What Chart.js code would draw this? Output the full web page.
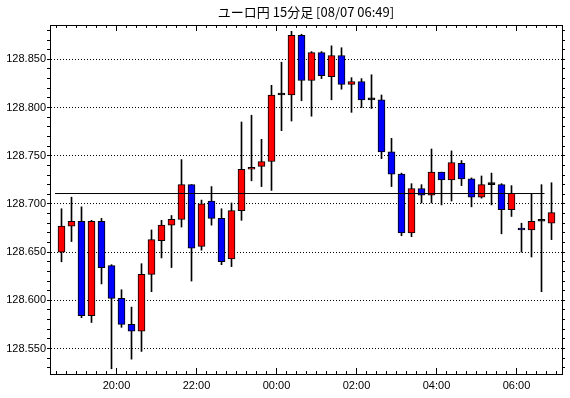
<!DOCTYPE html>
<html>
<head>
<meta charset="utf-8">
<script src="https://cdn.jsdelivr.net/npm/chart.js@4/dist/chart.umd.min.js"></script>
<style>
html,body{margin:0;padding:0;background:#fff;}
#wrap{width:570px;height:398px;}
</style>
</head>
<body>
<div id="wrap"><canvas id="c" width="570" height="398"></canvas></div>
<script>
const titleText = 'ユーロ円 15分足 [08/07 06:49]';

// candle start times (15 minute bars)
const times = [
  '18:30','18:45','19:00','19:15','19:30','19:45','20:00','20:15','20:30','20:45',
  '21:00','21:15','21:30','21:45','22:00','22:15','22:30','22:45','23:00','23:15',
  '23:30','23:45','00:00','00:15','00:30','00:45','01:00','01:15','01:30','01:45',
  '02:00','02:15','02:30','02:45','03:00','03:15','03:30','03:45','04:00','04:15',
  '04:30','04:45','05:00','05:15','05:30','05:45','06:00','06:15','06:30','06:45'
];
const opens = [
  128.650,128.677,128.682,128.584,128.682,128.636,128.602,128.575,128.568,128.627,
  128.662,128.678,128.684,128.720,128.656,128.703,128.685,128.643,128.693,128.736,
  128.739,128.744,128.813,128.813,128.875,128.828,128.857,128.832,128.854,128.824,
  128.827,128.808,128.808,128.754,128.731,128.670,128.716,128.709,128.733,128.725,
  128.742,128.726,128.707,128.720,128.720,128.694,128.675,128.673,128.682,128.680
];
const highs = [
  128.695,128.707,128.697,128.683,128.685,128.637,128.611,128.593,128.638,128.673,
  128.683,128.688,128.746,128.720,128.704,128.718,128.695,128.701,128.785,128.792,
  128.767,128.823,128.847,128.879,128.876,128.858,128.858,128.864,128.862,128.831,
  128.830,128.834,128.813,128.768,128.732,128.721,128.720,128.757,128.733,128.755,
  128.745,128.727,128.729,128.732,128.721,128.719,128.680,128.711,128.720,128.722
];
const lows = [
  128.640,128.661,128.582,128.577,128.617,128.529,128.572,128.539,128.547,128.609,
  128.644,128.634,128.676,128.620,128.652,128.678,128.637,128.635,128.683,128.724,
  128.718,128.714,128.776,128.786,128.807,128.791,128.830,128.808,128.819,128.795,
  128.800,128.799,128.747,128.718,128.667,128.666,128.701,128.701,128.699,128.703,
  128.719,128.697,128.706,128.699,128.669,128.687,128.650,128.645,128.609,128.663
];
const closes = [
  128.677,128.682,128.584,128.682,128.634,128.602,128.575,128.568,128.627,128.663,
  128.678,128.684,128.720,128.654,128.700,128.685,128.640,128.693,128.736,128.738,
  128.744,128.813,128.813,128.875,128.828,128.857,128.833,128.854,128.824,128.827,
  128.808,128.808,128.754,128.731,128.670,128.716,128.709,128.733,128.725,128.743,
  128.726,128.707,128.720,128.720,128.694,128.711,128.673,128.682,128.682,128.691
];
const axisLabels = ['20:00','22:00','00:00','02:00','04:00','06:00'];
const refLevel = 128.7108;         // horizontal reference line
const refSpan = [-0.15, 48.8];     // in candle-slot units
const yRange = [128.5236, 128.8856];
const xRange = [-0.65, 50.55];

const UP = '#ff0000', DOWN = '#0000ff';
const bodyData = opens.map((o, i) => ({x: i + 0.5, y: [o, closes[i]]}));
const wickData = lows.map((l, i) => ({x: i + 0.5, y: [l, highs[i]]}));
const bodyColors = opens.map((o, i) => closes[i] > o ? UP : (closes[i] < o ? DOWN : '#000'));
const refData = refSpan.map(x => ({x: x, y: refLevel}));

const isMajor = v => Math.abs(v * 20 - Math.round(v * 20)) < 1e-4;
const labelFont = {family: '"Liberation Sans", Arial, sans-serif', size: 11};

const frameTicks = {
  id: 'frameTicks',
  afterDraw(chart) {
    const {ctx, chartArea: a} = chart;
    const x = chart.scales.x;
    ctx.save();
    ctx.strokeStyle = '#000';
    ctx.lineWidth = 1;
    ctx.beginPath();
    ctx.moveTo(a.left, Math.floor(a.top) + 0.5);
    ctx.lineTo(a.right, Math.floor(a.top) + 0.5);
    for (let k = 0; k <= times.length; k++) {
      const px = Math.floor(x.getPixelForValue(k)) + 0.5;
      const major = k < times.length && axisLabels.includes(times[k]);
      const len = major ? 6 : 3;
      ctx.moveTo(px, a.bottom);
      ctx.lineTo(px, a.bottom - len);
      ctx.moveTo(px, a.top);
      ctx.lineTo(px, a.top + len);
    }
    ctx.stroke();
    ctx.restore();
  }
};

new Chart(document.getElementById('c'), {
  type: 'bar',
  data: {
    datasets: [
      {
        type: 'line', data: refData, borderColor: '#000', borderWidth: 1,
        pointRadius: 0, fill: false, order: -1
      },
      {
        data: bodyData, backgroundColor: bodyColors, borderColor: '#000',
        borderWidth: 1, borderSkipped: false, barThickness: 7, grouped: false,
        minBarLength: 2, order: 0
      },
      {
        data: wickData, backgroundColor: '#000', borderWidth: 0,
        barThickness: 1, grouped: false, order: 1
      }
    ]
  },
  options: {
    responsive: false,
    animation: false,
    devicePixelRatio: 1,
    events: [],
    layout: {padding: 0},
    plugins: {
      legend: {display: false},
      tooltip: {enabled: false},
      title: {
        display: true, text: titleText, fullSize: false, color: '#000',
        font: {family: '"Noto Sans CJK JP", sans-serif', size: 13, weight: 'normal', lineHeight: 1.2},
        padding: {top: 4, bottom: 5.4}
      }
    },
    scales: {
      x: {
        type: 'linear', position: 'bottom', min: xRange[0], max: xRange[1], offset: false,
        afterFit(s) { s.height = 24; },
        grid: {display: false, drawTicks: false, tickLength: 0},
        border: {display: true, color: '#000', width: 1},
        ticks: {
          stepSize: 1, includeBounds: false, autoSkip: false, maxRotation: 0, minRotation: 0,
          maxTicksLimit: 200, color: '#000', font: labelFont, padding: 5,
          callback(v) {
            const t = times[v];
            return (Number.isInteger(v) && t && axisLabels.includes(t)) ? t : '';
          }
        }
      },
      y: {
        type: 'linear', position: 'left', min: yRange[0], max: yRange[1],
        afterFit(s) { s.width = 50; },
        ticks: {
          stepSize: 0.01, includeBounds: false, autoSkip: false, maxTicksLimit: 200,
          color: '#000', font: labelFont, padding: 1,
          callback(v) { return isMajor(v) ? v.toFixed(3) : ''; }
        },
        grid: {
          color: ctx => (ctx.tick && isMajor(ctx.tick.value)) ? '#000' : 'rgba(0,0,0,0)',
          lineWidth: 1, drawTicks: true, tickLength: 3, tickColor: '#000', tickBorderDash: []
        },
        border: {display: true, color: '#000', width: 1, dash: [1, 2]}
      },
      y2: {
        type: 'linear', position: 'right', min: yRange[0], max: yRange[1],
        afterFit(s) { s.width = 8; },
        ticks: {display: false, stepSize: 0.01, includeBounds: false, maxTicksLimit: 200},
        grid: {drawOnChartArea: false, drawTicks: true, tickLength: 3, tickColor: '#000'},
        border: {display: true, color: '#000', width: 1}
      }
    }
  },
  plugins: [frameTicks]
});
</script>
</body>
</html>
